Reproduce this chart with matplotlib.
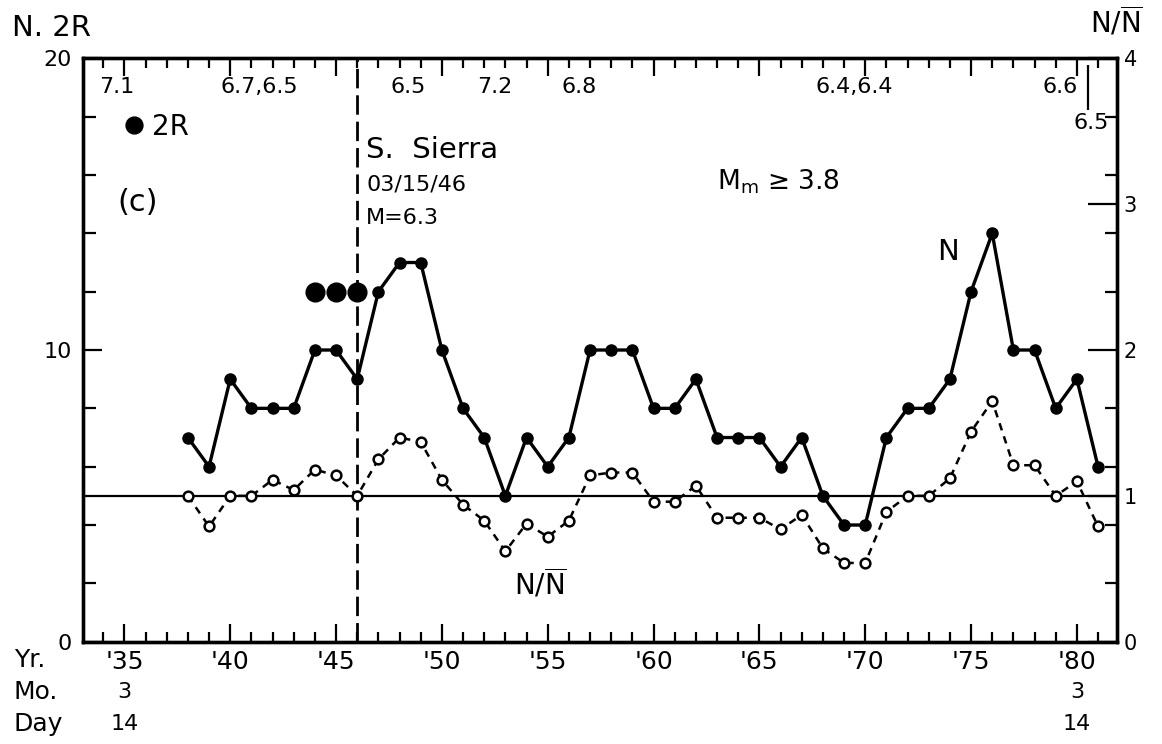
import matplotlib.pyplot as plt
from matplotlib.ticker import FixedLocator, MultipleLocator

plt.rcParams['font.family'] = ['DejaVu Sans']
plt.rcParams['mathtext.fontset'] = 'dejavusans'
plt.rcParams['mathtext.default'] = 'regular'

# yearly counts N and normalised rate N/N-bar (years start Mar 14)
years = list(range(1938, 1982))
n_counts = [7, 6, 9, 8, 8, 8, 10, 10, 9, 12, 13, 13, 10, 8, 7, 5, 7, 6, 7, 10,
            10, 10, 8, 8, 9, 7, 7, 7, 6, 7, 5, 4, 4, 7, 8, 8, 9, 12, 14, 10,
            10, 8, 9, 6]
n_ratio = [1.0, 0.79, 1.0, 1.0, 1.11, 1.04, 1.18, 1.14, 1.0, 1.25, 1.40, 1.37,
           1.11, 0.94, 0.83, 0.62, 0.81, 0.72, 0.83, 1.14, 1.16, 1.16, 0.96,
           0.96, 1.07, 0.85, 0.85, 0.85, 0.77, 0.87, 0.64, 0.54, 0.54, 0.89,
           1.0, 1.0, 1.12, 1.44, 1.65, 1.21, 1.21, 1.0, 1.1, 0.79]

# 2R points before the main shock
r2_years = [1944, 1945, 1946]
r2_values = [12, 12, 12]

mainshock_year = 1946.0

year_ticks = [1935, 1940, 1945, 1950, 1955, 1960, 1965, 1970, 1975, 1980]
year_labels = ["'35", "'40", "'45", "'50", "'55", "'60", "'65", "'70", "'75", "'80"]
date_years = [1935, 1980]
month_labels = ["3", "3"]
day_labels = ["14", "14"]

# large events along the top
mag_years = [1934.66, 1941.36, 1948.4, 1952.5, 1956.5, 1969.5, 1979.2]
mag_labels = ["7.1", "6.7,6.5", "6.5", "7.2", "6.8", "6.4,6.4", "6.6"]
late_event_year = 1980.54
late_event_label = "6.5"

fig = plt.figure(figsize=(11.62, 7.44), dpi=100)
ax = fig.add_axes([0.0717, 0.1375, 0.8893, 0.7841])
ax2 = ax.twinx()

ax.set_xlim(1933.06, 1981.88)
ax.set_ylim(0, 20)
ax2.set_ylim(0, 4)

# data
ax.plot(years, n_counts, '-o', color='k', lw=2.4, ms=8, zorder=4)
ax.plot(r2_years, r2_values, 'o', color='k', ms=13.5, ls='none', label='2R', zorder=4)
ax2.plot(years, n_ratio, color='k', lw=1.8, ls=(0, (3, 2.5)), marker='o', ms=7,
         mfc='white', mec='k', mew=1.8, zorder=4)
ax2.axhline(1, color='k', lw=1.6, zorder=3)
ax.axvline(mainshock_year, color='k', lw=2.0, ls=(0, (7, 2.5)), zorder=3)

# axes styling
for a in (ax, ax2):
    for s in a.spines.values():
        s.set_linewidth(2.4)

ax.xaxis.set_major_locator(FixedLocator(year_ticks))
ax.set_xticklabels(year_labels)
ax.xaxis.set_minor_locator(MultipleLocator(1))
ax.tick_params(axis='x', which='both', direction='in', top=True, bottom=True,
               width=1.6, labelsize=18, pad=6)
ax.tick_params(axis='x', which='major', length=13)
ax.tick_params(axis='x', which='minor', length=7)

ax.yaxis.set_major_locator(FixedLocator([0, 10, 20]))
ax.yaxis.set_minor_locator(MultipleLocator(2))
ax.tick_params(axis='y', which='both', direction='in', width=1.6, labelsize=16, pad=8)
ax.tick_params(axis='y', which='major', length=14)
ax.tick_params(axis='y', which='minor', length=9)

ax2.yaxis.set_major_locator(FixedLocator([0, 1, 2, 3, 4]))
ax2.yaxis.set_minor_locator(FixedLocator([0.4, 0.8, 1.2, 1.6, 2.4, 2.8, 3.2, 3.6]))
ax2.tick_params(axis='y', which='both', direction='in', width=1.6, labelsize=15, pad=5)
ax2.tick_params(axis='y', which='major', length=21)
ax2.tick_params(axis='y', which='minor', length=9)

# legend for 2R
ax.legend(loc='center left', bbox_to_anchor=(0.040, 0.882), frameon=False,
          handlelength=0.7, handletextpad=0.3, borderpad=0, borderaxespad=0,
          fontsize=20, markerscale=0.9)

# magnitudes along the top
for yr, lab in zip(mag_years, mag_labels):
    ax.text(yr, 19.0, lab, ha='center', va='center', fontsize=16)
ax.text(late_event_year + 0.12, 17.78, late_event_label, ha='center', va='center', fontsize=16)
ax.vlines(late_event_year, 18.23, 19.77, color='k', lw=1.6)

# annotations
ax.text(1934.66, 15.07, '(c)', ha='left', va='center', fontsize=22)
ax.text(mainshock_year + 0.42, 16.86, 'S.  Sierra', ha='left', va='center', fontsize=21)
ax.text(mainshock_year + 0.42, 15.69, '03/15/46', ha='left', va='center', fontsize=16)
ax.text(mainshock_year + 0.42, 14.52, 'M=6.3', ha='left', va='center', fontsize=16)
ax.text(1963.0, 15.76, r'M$_{m}$ ≥ 3.8', ha='left', va='center', fontsize=19)
ax.text(1973.4, 13.36, 'N', ha='left', va='center', fontsize=21)
ax.text(1953.4, 2.0, r'N/$\overline{N}$', ha='left', va='center', fontsize=20)

# axis titles
fig.text(12 / 1162, 1 - 28 / 744, 'N. 2R', ha='left', va='center', fontsize=21)
fig.text(1090 / 1162, 1 - 22 / 744, r'N/$\overline{N}$', ha='left', va='center', fontsize=20)

# date rows under the year axis
fig.text(14 / 1162, 1 - 660 / 744, 'Yr.', ha='left', va='center', fontsize=18)
fig.text(14 / 1162, 1 - 692 / 744, 'Mo.', ha='left', va='center', fontsize=18)
fig.text(14 / 1162, 1 - 724 / 744, 'Day', ha='left', va='center', fontsize=18)
date_trans = ax.get_xaxis_transform()
for yr, mo, dy in zip(date_years, month_labels, day_labels):
    ax.text(yr, -(692 - 641.7) / 583.4, mo, transform=date_trans, ha='center', va='center',
            fontsize=16, clip_on=False)
    ax.text(yr, -(724 - 641.7) / 583.4, dy, transform=date_trans, ha='center', va='center',
            fontsize=16, clip_on=False)

fig.savefig('out.png', dpi=100)
